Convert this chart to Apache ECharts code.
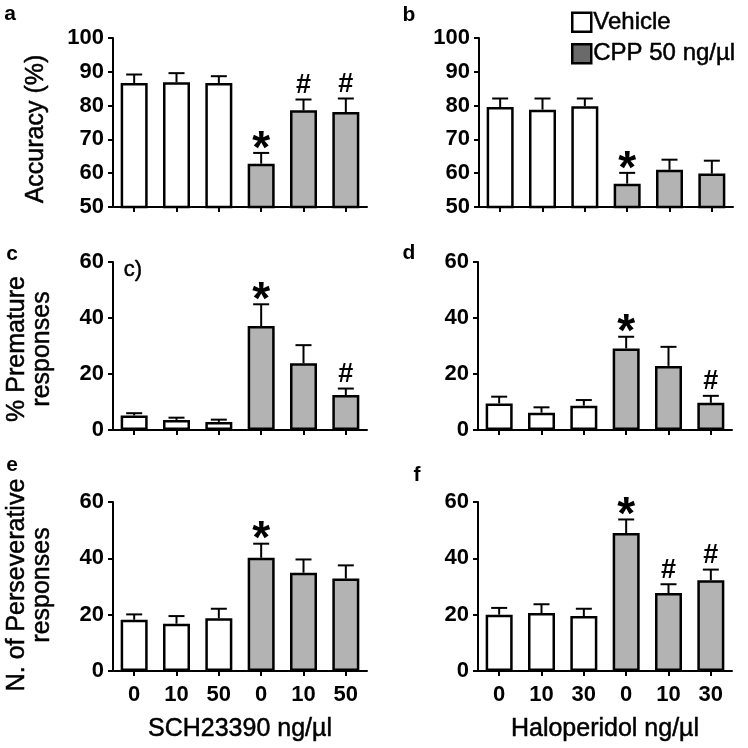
<!DOCTYPE html>
<html>
<head>
<meta charset="utf-8">
<script src="https://cdn.jsdelivr.net/npm/echarts@6/dist/echarts.min.js"></script>
<style>html,body{margin:0;padding:0;background:#fff;}#c{width:748px;height:748px;}</style>
</head>
<body>
<div id="c"></div>
<script>
// ---- data ----
const groupNames = ['Vehicle', 'CPP 50 ng/µl'];
const doseSCH = ['0', '10', '50', '0', '10', '50'];
const doseHAL = ['0', '10', '30', '0', '10', '30'];

const accSCH = [86.7, 86.9, 86.7, 62.8, 78.6, 78.1];
const accSCHerr = [2.5, 2.7, 2.0, 3.2, 3.2, 4.0];
const accSCHmark = ['', '', '', '*', '#', '#'];

const accHAL = [79.6, 78.8, 79.8, 56.9, 61.0, 59.9];
const accHALerr = [2.5, 3.3, 2.3, 3.2, 3.0, 3.8];
const accHALmark = ['', '', '', '*', '', ''];

const premSCH = [5.2, 3.6, 2.9, 37.1, 23.8, 12.5];
const premSCHerr = [0.8, 0.8, 0.8, 7.8, 6.5, 2.3];
const premSCHmark = ['', '', '', '*', '', '#'];

const premHAL = [9.5, 6.2, 8.7, 29.1, 22.9, 9.7];
const premHALerr = [2.4, 1.9, 2.0, 4.2, 6.8, 2.5];
const premHALmark = ['', '', '', '*', '', '#'];

const persSCH = [18.2, 16.8, 18.7, 40.2, 34.9, 32.8];
const persSCHerr = [1.9, 2.7, 3.4, 5.0, 4.7, 4.7];
const persSCHmark = ['', '', '', '*', '', ''];

const persHAL = [20.0, 20.6, 19.5, 49.0, 27.7, 32.2];
const persHALerr = [2.4, 3.1, 2.6, 4.8, 3.1, 3.8];
const persHALmark = ['', '', '', '*', '#', '#'];

const accTicks = [50, 100, 10];
const respTicks = [0, 60, 20];

// ---- layout ----
const FONT = "'Liberation Sans', Arial, sans-serif";
const panels = [
  {cats: doseSCH, v: accSCH, e: accSCHerr, m: accSCHmark, t: accTicks, grid: {left: 113, top: 38, width: 254, height: 169}, xlab: false, xname: ''},
  {cats: doseHAL, v: accHAL, e: accHALerr, m: accHALmark, t: accTicks, grid: {left: 479, top: 38, width: 254, height: 169}, xlab: false, xname: ''},
  {cats: doseSCH, v: premSCH, e: premSCHerr, m: premSCHmark, t: respTicks, grid: {left: 113, top: 262, width: 254, height: 168}, xlab: false, xname: ''},
  {cats: doseHAL, v: premHAL, e: premHALerr, m: premHALmark, t: respTicks, grid: {left: 478, top: 262, width: 254, height: 168}, xlab: false, xname: ''},
  {cats: doseSCH, v: persSCH, e: persSCHerr, m: persSCHmark, t: respTicks, grid: {left: 113, top: 502, width: 254, height: 169}, xlab: true, xname: 'SCH23390 ng/µl'},
  {cats: doseHAL, v: persHAL, e: persHALerr, m: persHALmark, t: respTicks, grid: {left: 478, top: 502, width: 254, height: 169}, xlab: true, xname: 'Haloperidol ng/µl'}
];

const WHITE = '#ffffff', GRAY = '#b3b3b3', LEGGRAY = '#6a6a6a';
const HEAVY = {textBorderColor: '#000', textBorderWidth: 0.5};

const grids = [], xAxes = [], yAxes = [], series = [];
panels.forEach((p, i) => {
  grids.push(Object.assign({containLabel: false}, p.grid));
  xAxes.push({
    type: 'category', gridIndex: i, data: p.cats,
    axisLine: {lineStyle: {color: '#000', width: 2}},
    axisTick: {show: true, alignWithLabel: true, length: 5, lineStyle: {color: '#000', width: 2}},
    axisLabel: {show: p.xlab, color: '#000', fontSize: 22, fontFamily: FONT, fontWeight: 'bold', margin: 13},
    name: p.xname, nameLocation: 'middle', nameGap: 46,
    nameTextStyle: Object.assign({color: '#000', fontSize: 25, fontFamily: FONT}, HEAVY)
  });
  yAxes.push({
    type: 'value', gridIndex: i, min: p.t[0], max: p.t[1], interval: p.t[2],
    axisLine: {show: true, lineStyle: {color: '#000', width: 2}},
    axisTick: {show: true, length: 5, lineStyle: {color: '#000', width: 2}},
    axisLabel: {color: '#000', fontSize: 22, fontFamily: FONT, fontWeight: 'bold', margin: 9},
    splitLine: {show: false}
  });
  const veh = p.v.map((d, k) => k < 3 ? d : '-');
  const cpp = p.v.map((d, k) => k >= 3 ? d : '-');
  series.push({
    name: groupNames[0], type: 'bar', xAxisIndex: i, yAxisIndex: i, data: veh,
    barWidth: 27, barGap: '-100%',
    itemStyle: {color: WHITE, borderColor: '#000', borderWidth: 2.5}
  });
  series.push({
    name: groupNames[1], type: 'bar', xAxisIndex: i, yAxisIndex: i, data: cpp,
    barWidth: 27, barGap: '-100%',
    itemStyle: {color: GRAY, borderColor: '#000', borderWidth: 2.5}
  });
  series.push({
    type: 'custom', xAxisIndex: i, yAxisIndex: i, z: 5, silent: true,
    data: p.v.map((d, k) => [k, d, p.e[k]]),
    renderItem: function (params, api) {
      const k = api.value(0), mean = api.value(1), err = api.value(2);
      const mark = p.m[k];
      const base = api.coord([k, mean]);
      const top = api.coord([k, mean + err]);
      const children = [
        {type: 'line', shape: {x1: base[0], y1: base[1], x2: top[0], y2: top[1]}, style: {stroke: '#000', lineWidth: 2}},
        {type: 'line', shape: {x1: top[0] - 8, y1: top[1], x2: top[0] + 8, y2: top[1]}, style: {stroke: '#000', lineWidth: 2}}
      ];
      if (mark === '*') {
        children.push({type: 'text', style: {text: '*', x: top[0], y: top[1] - 3, textAlign: 'center', textVerticalAlign: 'middle', fontSize: 46, fontWeight: 'bold', fontFamily: FONT, fill: '#000'}});
      } else if (mark === '#') {
        children.push({type: 'text', style: {text: '#', x: top[0], y: top[1] - 14, textAlign: 'center', textVerticalAlign: 'middle', fontSize: 27, fontWeight: 'bold', fontFamily: FONT, fill: '#000'}});
      }
      return {type: 'group', children: children};
    }
  });
});

function vtext(text, x, y) {
  return {type: 'text', x: x, y: y, rotation: Math.PI / 2,
    style: Object.assign({text: text, textAlign: 'center', textVerticalAlign: 'middle', fontSize: 25, fontFamily: FONT, fill: '#000'}, {stroke: '#000', lineWidth: 0.5})};
}
function letter(t, x, y) {
  return {type: 'text', x: x, y: y,
    style: {text: t, textAlign: 'center', textVerticalAlign: 'middle', fontSize: 21, fontWeight: 'bold', fontFamily: FONT, fill: '#000'}};
}

const option = {
  animation: false,
  backgroundColor: '#fff',
  legend: {
    orient: 'vertical', left: 566, top: 5, itemWidth: 19, itemHeight: 19, itemGap: 7,
    icon: 'rect',
    textStyle: Object.assign({color: '#000', fontSize: 24, fontFamily: FONT, padding: [0, 0, 0, -3]}, HEAVY),
    data: [
      {name: groupNames[0], itemStyle: {color: WHITE, borderColor: '#000', borderWidth: 2.5}},
      {name: groupNames[1], itemStyle: {color: LEGGRAY, borderColor: '#000', borderWidth: 2.5}}
    ],
    selectedMode: false
  },
  grid: grids, xAxis: xAxes, yAxis: yAxes, series: series,
  graphic: [
    vtext('Accuracy (%)', 36, 129),
    vtext('% Premature', 17, 349),
    vtext('responses', 42, 349),
    vtext('N. of Perseverative', 17, 585),
    vtext('responses', 42, 585),
    letter('a', 10, 14), letter('b', 409, 15), letter('c', 12, 254),
    letter('d', 409, 253), letter('e', 12, 465), letter('f', 417, 475),
    {type: 'text', x: 133, y: 270, style: {text: 'c)', textAlign: 'center', textVerticalAlign: 'middle', fontSize: 22, fontFamily: FONT, fill: '#000', stroke: '#000', lineWidth: 0.5}}
  ]
};

const chart = echarts.init(document.getElementById('c'), null, {renderer: 'canvas'});
chart.setOption(option);
</script>
</body>
</html>
